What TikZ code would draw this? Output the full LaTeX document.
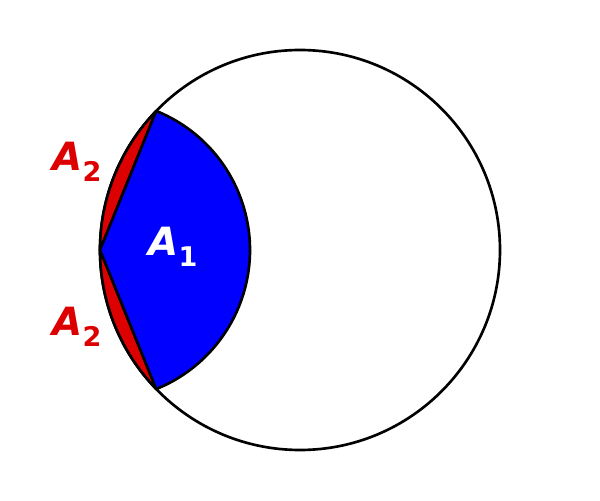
\documentclass[tikz,border=0pt]{standalone}
\usepackage{fontspec}
\setmainfont{DejaVu Sans}
\usetikzlibrary{calc}
\definecolor{lensred}{RGB}{221,0,0}
\definecolor{lensblue}{RGB}{0,0,255}
\newcommand\arealbl[2]{\textit{#1}\raisebox{-7.5pt}{\fontsize{19.5}{22}\selectfont #2}}

\begin{document}
\begin{tikzpicture}[
    x=0.72pt, y=0.72pt,
    outline/.style={draw=black,line width=1.9pt,line join=round},
    sliver/.style={outline,fill=lensred},
    sector/.style={outline,fill=lensblue},
    area/.style={inner sep=0pt,font=\fontsize{28}{32}\selectfont\bfseries},
  ]
  \useasboundingbox (0,0) rectangle (600,500);

  % --- points: centre, leftmost point, the two crossings ---
  \coordinate (O) at (300,250);
  \coordinate (L) at (100,250);
  \coordinate (P) at ($(O)+(135.96:200)$);
  \coordinate (Q) at ($(O)+(224.04:200)$);

  % --- big circle ---
  \draw[outline,fill=white] (O) circle[radius=200];

  % --- red slivers between arc and chord ---
  \draw[sliver] (L) arc[start angle=180,end angle=135.96,radius=200] -- cycle;
  \draw[sliver] (L) arc[start angle=180,end angle=224.04,radius=200] -- cycle;

  % --- blue sector centred on L ---
  \draw[sector] (L) -- (P) arc[start angle=67.97,end angle=-67.97,radius=150] -- cycle;

  % --- labels ---
  \node[area,text=lensred] (a2top) at (77,338) {\arealbl{A}{2}};
  \node[area,text=lensred] (a2bot) at (77,173) {\arealbl{A}{2}};
  \node[area,text=white]   (a1)    at (173,253) {\arealbl{A}{1}};

\end{tikzpicture}
\end{document}
